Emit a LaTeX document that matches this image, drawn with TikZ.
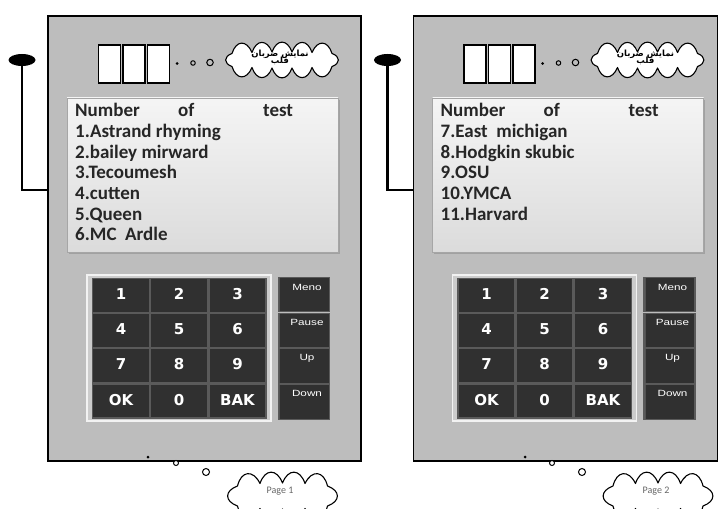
\documentclass[tikz,border=0pt]{standalone}
\usepackage{fontspec}
\setmainfont{Carlito}
\newfontfamily\keyfont{DejaVu Sans}
\newfontfamily\smallsans{Liberation Sans}
\newfontfamily\arabicfont[Script=Arabic]{DejaVu Sans}
\TeXXeTstate=1
\usetikzlibrary{shapes.geometric,shadows,calc}
\definecolor{panelgray}{HTML}{BDBDBD}
\definecolor{keydark}{HTML}{303030}
\definecolor{keyedge}{HTML}{5A5A5A}
\definecolor{keylight}{HTML}{7A7A7A}
\tikzset{
  panelbox/.style={draw=black,line width=1.3pt,fill=panelgray,minimum height=445pt,inner sep=0pt},
  digitbox/.style={draw=black,line width=1.4pt,fill=white,minimum width=22pt,minimum height=38pt,inner sep=0pt},
  puffline/.style={draw=black,line width=1.1pt,fill=white,line join=round},
  screenbox/.style={draw=gray!70,line width=0.8pt,top color=white!96!black,bottom color=white!86!black,inner sep=0pt,minimum width=271pt,minimum height=154pt,
    drop shadow={opacity=0.45,shadow xshift=1.8pt,shadow yshift=-1.8pt}},
  listtext/.style={font=\fontsize{19}{20}\selectfont\bfseries,text=black!85,anchor=base west,inner sep=0pt},
  keybox/.style={draw=keyedge,line width=1.2pt,fill=keydark,minimum width=57pt,minimum height=34pt,inner sep=0pt,
    text height=11pt,text depth=3pt,
    text=white,font=\keyfont\bfseries\fontsize{15}{15}\selectfont,
    path picture={\draw[keylight,line width=1.6pt] (path picture bounding box.south west) -- (path picture bounding box.north west) -- (path picture bounding box.north east);}},
  sidebox/.style={draw=keyedge,line width=1.2pt,fill=keydark,minimum width=51pt,minimum height=34.5pt,inner sep=0pt,
    path picture={\draw[keylight!130,line width=3pt] (path picture bounding box.south west) -- (path picture bounding box.north west);}},
  sidelabel/.style={text=white,font=\smallsans\fontsize{9}{9}\selectfont,inner sep=0pt},
  stemline/.style={line width=2.6pt,black},
  knob/.style={ellipse,fill=black,minimum width=27pt,minimum height=12pt,inner sep=0pt},
  smalldot/.style={circle,fill=black,minimum size=3pt,inner sep=0pt},
  ring/.style={circle,draw=black,line width=1pt,inner sep=0pt},
  pagetext/.style={text=black!60,font=\fontsize{10}{10}\selectfont}
}
\newcommand\widelabel[1]{\scalebox{1.3}[1]{#1}}
% cloud: #1 prefix, #2 cx, #3 cy, #4 macro with closed list of cusp offsets x/y, #5 number of puffs
\newcommand\puffcloud[5]{%
  \foreach \px/\py [count=\j] in #4 {\coordinate (#1\j) at ({#2+\px},{#3+\py});}
  \draw[puffline] (#11) \foreach \j [evaluate=\j as \nx using {int(\j+1)}] in {1,...,#5}{
     .. controls ($(#1\j)!0.7!70:(#1\nx)$) and ($(#1\nx)!0.7!-70:(#1\j)$) .. (#1\nx)} -- cycle;
}
\newcommand\heartcusps{50/6.5,30/7.5,10/8,-10/8,-30/7.5,-50/6.5,-50/-6.5,-30/-7.5,-10/-8,10/-8,30/-7.5,50/-6.5,50/6.5}
\newcommand\pagecusps{45/10,22.5/12.5,0/13,-22.5/12.5,-45/10,-45/-10,-22.5/-12.5,0/-13,22.5/-12.5,45/-10,45/10}
% #1 suffix, #2 panel width
\newcommand\devicepanel[2]{%
  \node[panelbox,minimum width=#2pt] (panel#1) at (48+#2/2,238.5) {};
  \node[knob] (knob#1) at (22,60) {};
  \coordinate (bend#1) at (22,190);
  \draw[stemline] (knob#1.center) -- (bend#1) -- (panel#1.west |- bend#1);
  \node[digitbox] (digA#1) at (109.5,64) {};
  \node[digitbox] (digB#1) at (134,64) {};
  \node[digitbox] (digC#1) at (158.5,64) {};
  \node[smalldot] (dotA#1) at (177,63.5) {};
  \node[ring,minimum size=4.5pt] (dotB#1) at (193,63) {};
  \node[ring,minimum size=6.5pt] (dotC#1) at (210,62.5) {};
  \puffcloud{heart#1}{282}{60}{\heartcusps}{12}
  \node[font=\arabicfont\bfseries\fontsize{8.5}{9}\selectfont,align=center,inner sep=0pt] (hearttext#1) at (280,57.5)
    {\beginR نمایش ضربان\endR\\[-2pt]\beginR قلب\endR};
  \node[screenbox] (screen#1) at (202.5,175) {};
  \node[draw=white!95!black,line width=1.6pt,fill=white!80!black,minimum width=184pt,minimum height=146pt,inner sep=0pt] (frame#1) at (179,348) {};
  \node[keybox] (k1#1) at (121,295.5) {1};
  \node[keybox] (k2#1) at (179,295.5) {2};
  \node[keybox] (k3#1) at (237.5,295.5) {3};
  \node[keybox] (k4#1) at (121,330.5) {4};
  \node[keybox] (k5#1) at (179,330.5) {5};
  \node[keybox] (k6#1) at (237.5,330.5) {6};
  \node[keybox] (k7#1) at (121,365.5) {7};
  \node[keybox] (k8#1) at (179,365.5) {8};
  \node[keybox] (k9#1) at (237.5,365.5) {9};
  \node[keybox] (kok#1) at (121,401) {OK};
  \node[keybox] (k0#1) at (179,401) {0};
  \node[keybox] (kbak#1) at (237.5,401) {BAK};
  \node[sidebox] (sA#1) at (304,294.5) {};
  \node[sidebox] (sB#1) at (304,330.5) {};
  \node[sidebox] (sC#1) at (304,366) {};
  \node[sidebox] (sD#1) at (304,402) {};
  \node[sidelabel] (lA#1) at (307,287) {\widelabel{Meno}};
  \node[sidelabel] (lB#1) at (307,322.5) {\widelabel{Pause}};
  \node[sidelabel] (lC#1) at (307,358) {\widelabel{Up}};
  \node[sidelabel] (lD#1) at (307,393.5) {\widelabel{Down}};
  \node[listtext] (hN#1) at (75,117) {Number};
  \node[listtext] (hO#1) at (178,117) {of};
  \node[listtext] (hT#1) at (263,117) {test};
}
\begin{document}
\begin{tikzpicture}[x=1pt,y=-1pt]
\useasboundingbox[fill=white] (0,0) rectangle (719,508);
% panel 1
\devicepanel{one}{313}
\node[listtext] (t1) at (75,137.6) {1.Astrand rhyming};
\node[listtext] (t2) at (75,158.2) {2.bailey mirward};
\node[listtext] (t3) at (75,178.8) {3.Tecoumesh};
\node[listtext] (t4) at (75,199.4) {4.cutten};
\node[listtext] (t5) at (75,220) {5.Queen};
\node[listtext] (t6) at (75,240.6) {6.MC\ \ Ardle};
\node[smalldot] (bdA1) at (148,457) {};
\node[ring,fill=white,minimum size=5pt] (bdB1) at (176,463) {};
\node[ring,fill=white,minimum size=7pt] (bdC1) at (206,472) {};
\puffcloud{pageA}{282.5}{496}{\pagecusps}{10}
\node[pagetext] (pagetext1) at (280,491) {Page 1};
% panel 2
\begin{scope}[xshift=365.5pt]
\devicepanel{two}{304}
\node[listtext] (t7) at (75,137.6) {7.East\ \ michigan};
\node[listtext] (t8) at (75,158.2) {8.Hodgkin skubic};
\node[listtext] (t9) at (75,178.8) {9.OSU};
\node[listtext] (t10) at (75,199.4) {10.YMCA};
\node[listtext] (t11) at (75,220) {11.Harvard};
\end{scope}
\node[smalldot] (bdA2) at (525,457) {};
\node[ring,fill=white,minimum size=5pt] (bdB2) at (552,463) {};
\node[ring,fill=white,minimum size=7pt] (bdC2) at (582,472) {};
\puffcloud{pageB}{658}{496}{\pagecusps}{10}
\node[pagetext] (pagetext2) at (656,491) {Page 2};
\end{tikzpicture}
\end{document}
